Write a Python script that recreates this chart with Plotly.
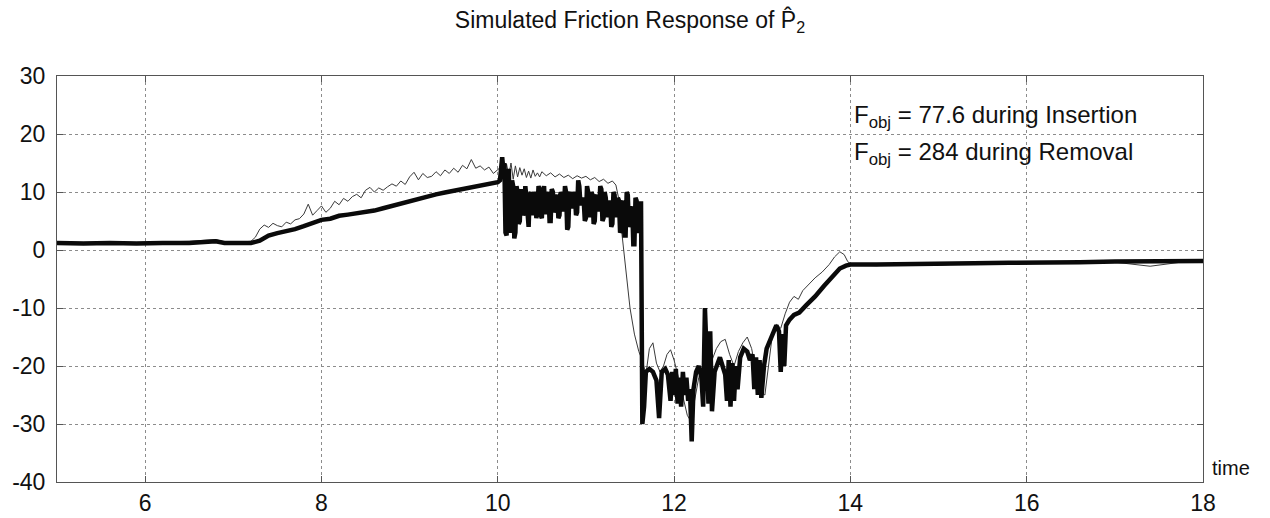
import plotly.graph_objects as go

# Axis ticks
x_ticks = [6, 8, 10, 12, 14, 16, 18]
y_ticks = [-40, -30, -20, -10, 0, 10, 20, 30]
y_tick_labels = ["-40", "-30", "-20", "-10", "0", "10", "20", "30"]

# Measured friction response (thin trace)
meas_t = [
    5.0, 5.3, 5.6, 5.9, 6.2, 6.5, 6.8, 6.9, 7.0, 7.2,
    7.25, 7.3, 7.35, 7.4, 7.45, 7.5, 7.55, 7.6, 7.65, 7.7, 7.75, 7.8, 7.85, 7.9, 7.95,
    8.0, 8.05, 8.1, 8.15, 8.2, 8.25, 8.3, 8.35, 8.4, 8.45, 8.5, 8.55, 8.6, 8.65, 8.7,
    8.75, 8.8, 8.85, 8.9, 8.95, 9.0, 9.05, 9.1, 9.15, 9.2, 9.25, 9.3, 9.35, 9.4, 9.45,
    9.5, 9.55, 9.6, 9.65, 9.7, 9.75, 9.8, 9.85, 9.9, 9.95, 10.0, 10.05,
    10.075, 10.1, 10.125, 10.15, 10.175, 10.2, 10.225, 10.25, 10.275, 10.3, 10.325,
    10.35, 10.375, 10.4, 10.425, 10.45, 10.475, 10.5, 10.55, 10.6, 10.65, 10.7, 10.75,
    10.8, 10.85, 10.9, 10.95, 11.0, 11.05, 11.1, 11.15, 11.2, 11.25, 11.3, 11.34,
    11.37, 11.4, 11.45, 11.5, 11.55, 11.6,
    11.64, 11.68, 11.72, 11.76, 11.8, 11.84, 11.88, 11.92, 11.96, 12.0, 12.05, 12.1,
    12.15, 12.19, 12.23, 12.28, 12.33, 12.38, 12.43, 12.48, 12.53, 12.58, 12.63, 12.68,
    12.73, 12.78, 12.83, 12.88, 12.93, 12.98, 13.03, 13.08, 13.12, 13.16, 13.21, 13.26,
    13.31, 13.36, 13.41, 13.46, 13.52, 13.6, 13.68, 13.76, 13.82, 13.88, 13.93, 13.97,
    14.02, 14.3, 14.6, 15.0, 15.4, 15.8, 16.2, 16.6, 17.0, 17.4, 17.8, 18.0,
]
meas_f = [
    1.4, 1.3, 1.4, 1.3, 1.4, 1.5, 1.8, 1.4, 1.3, 1.5,
    2.2, 3.6, 4.3, 3.9, 4.6, 4.2, 4.0, 4.8, 4.5, 5.2, 5.4, 6.2, 7.9, 6.0, 6.8,
    7.6, 6.5, 7.2, 8.4, 7.8, 8.9, 8.4, 9.2, 9.6, 9.0, 10.3, 10.8, 10.0, 10.7, 10.3,
    10.9, 11.4, 11.0, 11.9, 11.3, 12.6, 13.4, 12.1, 13.2, 12.5, 12.7, 13.5, 12.8, 13.8, 13.2,
    14.1, 13.4, 14.6, 14.0, 15.6, 14.1, 14.5, 13.8, 14.3, 13.2, 13.9, 14.5,
    12.5, 14.8, 12.8, 15.0, 12.2, 14.5, 12.6, 14.2, 12.9, 14.0, 12.5,
    13.6, 12.4, 13.8, 12.7, 13.3, 12.6, 13.5, 12.8, 13.3, 12.6, 13.1, 12.5,
    12.9, 12.3, 12.8, 12.4, 12.7, 12.1, 12.5, 11.8, 12.2, 11.5, 11.9, 11.2,
    9.0, 4.0, -3.0, -10.0, -14.5, -17.5,
    -19.0, -21.5, -17.0, -16.0, -19.5, -21.0, -20.0, -18.0, -17.2, -19.0, -22.0, -25.0,
    -28.5, -29.5, -26.0, -22.0, -20.0, -21.0, -19.0, -17.0, -15.8, -15.4, -18.0, -20.0,
    -17.5, -16.0, -15.0, -17.0, -21.0, -24.5, -25.0, -19.0, -14.0, -12.8, -13.5, -11.0,
    -9.0, -8.0, -8.5, -7.0, -6.0, -4.8, -3.8, -2.5, -1.2, -0.3, -0.8, -2.0,
    -2.6, -2.7, -2.4, -2.6, -2.3, -2.4, -2.3, -2.2, -2.1, -2.8, -2.0, -2.0,
]

# Simulated friction response (thick trace)
sim_t = [
    5.0, 5.3, 5.6, 5.9, 6.2, 6.5, 6.8, 6.9, 7.0, 7.2,
    7.3, 7.4, 7.5, 7.6, 7.7, 7.8, 7.9, 8.0, 8.1, 8.2, 8.3, 8.4, 8.5, 8.6, 8.7, 8.8,
    8.9, 9.0, 9.1, 9.2, 9.3, 9.4, 9.5, 9.6, 9.7, 9.8, 9.9, 10.0, 10.025,
    10.05, 10.0625, 10.075, 10.0875, 10.1, 10.1125, 10.125, 10.1375,
    10.15, 10.1625, 10.175, 10.1875, 10.2, 10.2125, 10.225, 10.2375,
    10.25, 10.2625, 10.275, 10.2875, 10.3, 10.3125, 10.325, 10.3375,
    10.35, 10.3625, 10.375, 10.3875, 10.4, 10.4125, 10.425, 10.4375,
    10.45, 10.4625, 10.475, 10.4875, 10.5, 10.5125, 10.525, 10.5375,
    10.55, 10.5625, 10.575, 10.5875, 10.6, 10.6125, 10.625, 10.6375,
    10.65, 10.6625, 10.675, 10.6875, 10.7, 10.7125, 10.725, 10.7375,
    10.75, 10.7625, 10.775, 10.7875, 10.8, 10.8125, 10.825, 10.8375,
    10.85, 10.8625, 10.875, 10.8875, 10.9, 10.9125, 10.925, 10.9375,
    10.95, 10.9625, 10.975, 10.9875, 11.0, 11.0125, 11.025, 11.0375,
    11.05, 11.0625, 11.075, 11.0875, 11.1, 11.1125, 11.125, 11.1375,
    11.15, 11.1625, 11.175, 11.1875, 11.2, 11.2125, 11.225, 11.2375,
    11.25, 11.2625, 11.275, 11.2875, 11.3, 11.3125, 11.325, 11.3375,
    11.35, 11.3625, 11.375, 11.3875, 11.4, 11.4125, 11.425, 11.4375,
    11.45, 11.4625, 11.475, 11.4875, 11.5, 11.5125, 11.525, 11.5375,
    11.55, 11.5625, 11.575, 11.5875, 11.6, 11.6125, 11.625,
    11.64, 11.66, 11.68, 11.72, 11.76, 11.8, 11.83, 11.86, 11.9, 11.93, 11.96, 11.98,
    12.0, 12.02, 12.04, 12.06, 12.08, 12.1, 12.12, 12.14, 12.16, 12.18, 12.2, 12.22,
    12.25, 12.28, 12.31, 12.33, 12.35, 12.37, 12.39, 12.41, 12.43, 12.46, 12.49, 12.52,
    12.55, 12.58, 12.6, 12.62, 12.64, 12.66, 12.68, 12.7, 12.72, 12.75, 12.79, 12.83,
    12.86, 12.89, 12.91, 12.93, 12.95, 12.97, 12.99, 13.02, 13.05, 13.08, 13.12, 13.16,
    13.19, 13.21, 13.23, 13.25, 13.27, 13.31, 13.36, 13.42, 13.5, 13.6, 13.7, 13.8,
    13.88, 13.95, 14.0,
    14.3, 14.6, 15.0, 15.4, 15.8, 16.2, 16.6, 17.0, 17.4, 17.8, 18.0,
]
sim_f = [
    1.2, 1.1, 1.2, 1.1, 1.2, 1.2, 1.5, 1.2, 1.2, 1.2,
    1.6, 2.5, 2.9, 3.2, 3.6, 4.1, 4.6, 5.2, 5.4, 5.9, 6.1, 6.3, 6.5, 6.8, 7.2, 7.6,
    8.0, 8.5, 8.9, 9.2, 9.6, 9.9, 10.2, 10.5, 10.8, 11.1, 11.4, 11.7, 12.0,
    16.0, 14.0, 15.0, 3.0, 2.5, 13.0, 14.0, 4.0,
    3.0, 12.0, 11.0, 2.0, 3.0, 11.0, 10.0, 4.5,
    5.0, 10.5, 9.0, 6.0, 6.5, 11.0, 9.0, 5.0,
    4.0, 9.5, 10.0, 6.0, 7.0, 10.0, 9.5, 5.5,
    7.0, 11.0, 10.5, 6.0, 5.5, 10.0, 11.0, 6.5,
    6.5, 9.5, 10.0, 5.0, 5.0, 10.5, 10.0, 6.5,
    7.0, 9.0, 9.5, 5.5, 6.0, 10.0, 9.5, 7.0,
    7.0, 11.0, 10.0, 3.5, 4.0, 9.5, 10.0, 7.5,
    7.5, 10.0, 9.5, 6.0, 6.5, 12.0, 11.0, 8.0,
    8.0, 9.0, 8.5, 5.0, 5.5, 11.0, 10.0, 6.0,
    6.0, 10.0, 9.5, 4.5, 5.0, 9.0, 9.5, 7.0,
    7.0, 11.0, 10.5, 5.0, 5.5, 10.0, 9.0, 6.0,
    6.0, 8.5, 8.0, 4.0, 4.5, 10.0, 9.5, 6.0,
    6.0, 9.0, 8.5, 3.0, 3.5, 8.0, 8.5, 2.5,
    2.5, 10.0, 9.5, 4.0, 4.5, 7.0, 7.5, 1.0,
    1.0, 9.0, 8.5, 3.0, 3.5, 8.0, 8.0,
    -30.0, -27.0, -21.0, -20.5, -21.0, -22.5, -29.0, -21.0, -20.5, -21.5, -26.0, -21.0,
    -25.0, -20.5, -26.5, -22.0, -27.0, -21.0, -25.0, -22.0, -26.0, -24.0, -33.0, -24.0,
    -21.0, -20.0, -22.0, -27.0, -10.0, -18.0, -26.5, -14.0, -27.8, -21.0, -19.5, -18.5,
    -20.0, -21.5, -26.0, -19.0, -27.0, -19.5, -26.0, -20.0, -24.0, -18.5, -17.0, -17.5,
    -19.0, -18.0, -24.0, -18.5, -25.0, -19.0, -25.5, -20.0, -17.0, -16.0, -14.5, -13.0,
    -14.0, -21.0, -14.5, -20.0, -13.0, -12.0, -11.2, -10.8, -9.5, -8.0, -6.2, -4.5,
    -3.2, -2.7, -2.5,
    -2.5, -2.4, -2.4, -2.3, -2.2, -2.2, -2.1, -2.0, -2.0, -1.9, -1.9,
]

FONT = "Liberation Sans, Arial, Helvetica, sans-serif"
GRID = "#8c8c8c"
AXIS = "#555555"

fig = go.Figure()
fig.add_trace(go.Scatter(
    x=meas_t, y=meas_f, mode="lines",
    line=dict(color="#3a3a3a", width=1), showlegend=False,
))
fig.add_trace(go.Scatter(
    x=sim_t, y=sim_f, mode="lines",
    line=dict(color="#0a0a0a", width=4.5), showlegend=False,
))

axis_common = dict(
    showgrid=True, gridcolor=GRID, griddash="dot", gridwidth=1,
    showline=True, linecolor=AXIS, linewidth=1, mirror="ticks",
    ticks="inside", ticklen=6, tickcolor=AXIS, automargin=False,
    zeroline=False, tickfont=dict(family=FONT, size=23, color="#111"),
)

fig.update_layout(
    width=1270, height=518,
    margin=dict(l=57, r=67, t=76, b=36),
    paper_bgcolor="white", plot_bgcolor="white",
    font=dict(family=FONT, color="#111"),
    title=dict(
        text="Simulated Friction Response of P\u0302<sub>2</sub>",
        x=0.5, xref="paper", y=1 - 20 / 518, yref="container",
        xanchor="center", yanchor="middle",
        font=dict(family=FONT, size=23, color="#111"),
    ),
    xaxis=dict(range=[5, 18], tickvals=x_ticks, ticklabelstandoff=0, **axis_common),
    yaxis=dict(range=[-40, 30], tickvals=y_ticks, ticktext=y_tick_labels,
               ticklabelstandoff=6, **axis_common),
)

fig.add_annotation(
    x=14.02, y=23.1, xref="x", yref="y", xanchor="left", yanchor="middle",
    text="F<sub>obj</sub> = 77.6 during Insertion", showarrow=False,
    font=dict(family=FONT, size=24, color="#111"),
)
fig.add_annotation(
    x=14.02, y=16.6, xref="x", yref="y", xanchor="left", yanchor="middle",
    text="F<sub>obj</sub> = 284 during Removal", showarrow=False,
    font=dict(family=FONT, size=24, color="#111"),
)
fig.add_annotation(
    x=1.006, y=-37.6, xref="paper", yref="y", xanchor="left", yanchor="middle",
    text="time", showarrow=False,
    font=dict(family=FONT, size=20, color="#111"),
)

fig.write_html("out.html")
